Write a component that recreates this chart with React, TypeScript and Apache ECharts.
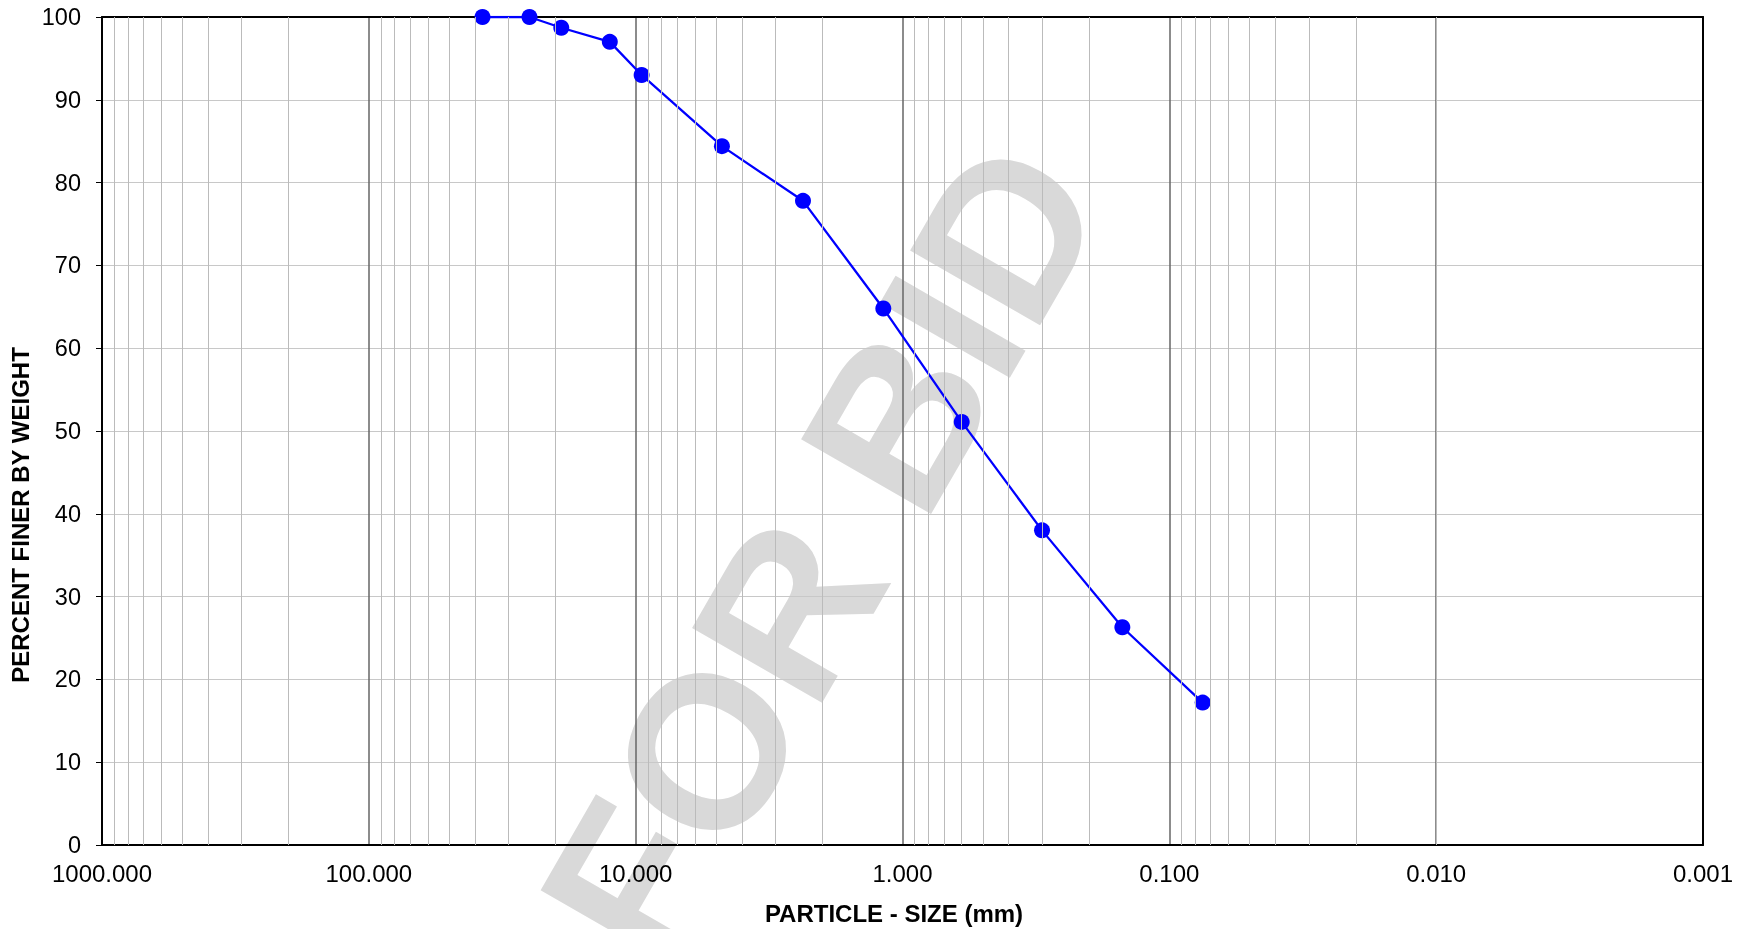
import React, { useEffect, useRef } from "react";
import * as echarts from "echarts";

const sizes = [37.5, 25, 19, 12.5, 9.5, 4.75, 2.36, 1.18, 0.6, 0.3, 0.15, 0.075];
const percentFiner = [100, 100, 98.7, 97.0, 93.0, 84.4, 77.8, 64.8, 51.1, 38.0, 26.3, 17.2];
const decades = [0.001, 0.01, 0.1, 1, 10, 100];
const minorMultipliers = [2, 3, 4, 5, 6, 7, 8, 9];
const xTitle = "PARTICLE - SIZE (mm)";
const yTitle = "PERCENT FINER BY WEIGHT";
const watermark = "FOR BID";

export default function App() {
  const ref = useRef<HTMLDivElement>(null);
  useEffect(() => {
    if (!ref.current) return;
    const chart = echarts.init(ref.current, undefined, { renderer: "svg" });
    const minorValues: number[] = [];
    decades.forEach((d) => minorMultipliers.forEach((m) => minorValues.push(+(d * m).toPrecision(6))));
    const font = "'Liberation Sans', Arial, sans-serif";
    const frameAxis = {
      axisLine: { show: true, onZero: false, lineStyle: { color: "#000", width: 2 } },
      axisTick: { show: false },
      axisLabel: { show: false },
      splitLine: { show: false },
    };
    chart.setOption({
      animation: false,
      grid: {
        left: 102,
        right: 42,
        top: 17,
        bottom: 84,
        containLabel: false,
        outerBoundsMode: "none",
      },
      graphic: [
        {
          type: "text",
          x: 822,
          y: 552,
          z: -10,
          silent: true,
          rotation: (60 * Math.PI) / 180,
          style: {
            text: watermark,
            font: `bold 218px ${font}`,
            fill: "#d9d9d9",
            textAlign: "center",
            textVerticalAlign: "middle",
            align: "center",
            verticalAlign: "middle",
          },
        },
        {
          type: "text",
          x: 20,
          y: 515,
          rotation: Math.PI / 2,
          style: {
            text: yTitle,
            font: `bold 24px ${font}`,
            fill: "#000",
            textAlign: "center",
            textVerticalAlign: "middle",
            align: "center",
            verticalAlign: "middle",
          },
        },
        {
          type: "text",
          x: 894,
          y: 913,
          style: {
            text: xTitle,
            font: `bold 24px ${font}`,
            fill: "#000",
            textAlign: "center",
            textVerticalAlign: "middle",
            align: "center",
            verticalAlign: "middle",
          },
        },
      ],
      xAxis: [
        {
          type: "log",
          logBase: 10,
          min: 0.001,
          max: 1000,
          inverse: true,
          axisLine: { show: true, onZero: false, lineStyle: { color: "#000", width: 2 } },
          axisTick: { show: false },
          axisLabel: {
            fontFamily: font,
            fontSize: 24,
            color: "#000",
            margin: 16,
            showMinLabel: true,
            showMaxLabel: true,
            formatter: (v: number) => v.toFixed(3),
          },
          splitLine: { show: true, lineStyle: { color: "#666666", width: 1.5 } },
        },
        {
          type: "log",
          logBase: 10,
          min: 0.001,
          max: 1000,
          inverse: true,
          position: "top",
          ...frameAxis,
        },
      ],
      yAxis: [
        {
          type: "value",
          min: 0,
          max: 100,
          interval: 10,
          axisLine: { show: true, onZero: false, lineStyle: { color: "#000", width: 2 } },
          axisTick: { show: true, length: 6, lineStyle: { color: "#000" } },
          axisLabel: { fontFamily: font, fontSize: 23.5, color: "#000", margin: 21 },
          splitLine: { show: true, lineStyle: { color: "#c8c8c8", width: 1 } },
        },
        {
          type: "value",
          min: 0,
          max: 100,
          interval: 10,
          position: "right",
          ...frameAxis,
        },
      ],
      series: [
        {
          type: "line",
          data: [],
          z: 1,
          silent: true,
          markLine: {
            silent: true,
            symbol: ["none", "none"],
            label: { show: false },
            animation: false,
            lineStyle: { color: "#bbbbbb", type: "solid", width: 1 },
            data: minorValues.map((v) => ({ xAxis: v })),
          },
        },
        {
          type: "line",
          z: 3,
          data: sizes.map((s, i) => [s, percentFiner[i]]),
          symbol: "circle",
          symbolSize: 16,
          lineStyle: { color: "#0000ff", width: 2.3 },
          itemStyle: { color: "#0000ff" },
        },
      ],
    });
    return () => chart.dispose();
  }, []);
  return <div ref={ref} style={{ position: "fixed", left: 0, top: 0, width: 1745, height: 929 }} />;
}
